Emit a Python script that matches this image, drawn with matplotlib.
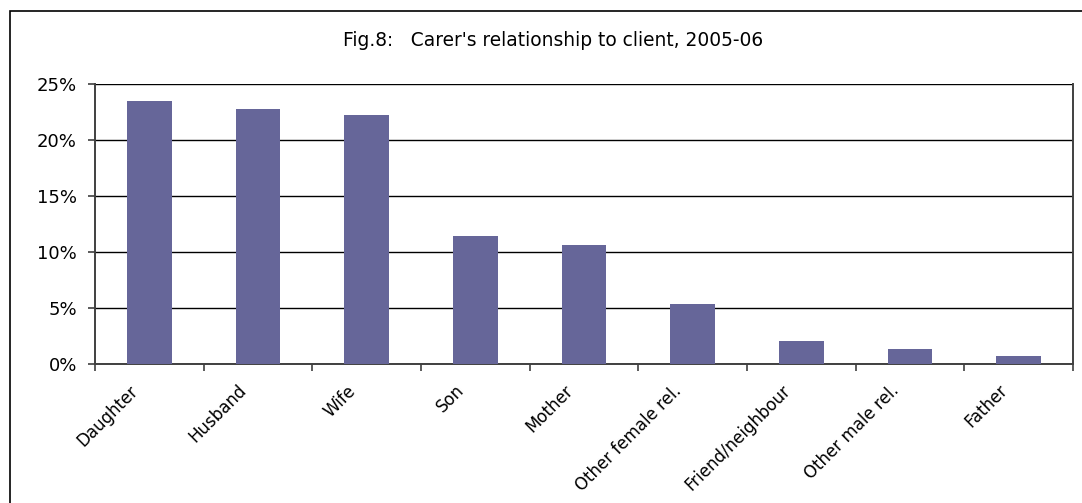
import matplotlib
matplotlib.use("Agg")
import matplotlib.pyplot as plt
from matplotlib.patches import Rectangle
from matplotlib.ticker import FixedLocator, FuncFormatter, NullFormatter
from matplotlib.transforms import ScaledTranslation

categories = ["Daughter", "Husband", "Wife", "Son", "Mother",
              "Other female rel.", "Friend/neighbour", "Other male rel.", "Father"]
shares = [23.5, 22.8, 22.2, 11.4, 10.65, 5.35, 2.05, 1.35, 0.7]
y_ticks = [0, 5, 10, 15, 20, 25]
title = "Fig.8:   Carer's relationship to client, 2005-06"

plt.rcParams['font.family'] = ['DejaVu Sans']

W, H = 1082, 503
fig = plt.figure(figsize=(W / 100, H / 100), dpi=100)

# outer chart frame (runs off the right and bottom edges)
frame = Rectangle((9.5 / W, -0.1), 1.2, 1.1 - 11.5 / H,
                  transform=fig.transFigure, fill=False,
                  edgecolor='black', linewidth=1.2, clip_on=False)
fig.patches.append(frame)

left, right, top, bottom = 95, 1073, 84, 364.3
ax = fig.add_axes([left / W, 1 - bottom / H, (right - left) / W, (bottom - top) / H])

x = list(range(len(categories)))
ax.bar(x, shares, width=0.41, color='#666699', zorder=3)

ax.set_xlim(-0.5, len(categories) - 0.5)
ax.set_ylim(0, 25)
ax.set_yticks(y_ticks)
ax.yaxis.set_major_formatter(FuncFormatter(lambda v, p: f"{v:.0f}%"))
ax.grid(axis='y', color='black', linewidth=1.0, zorder=1)

# category labels at bar centres, tick marks at category boundaries
ax.set_xticks(x)
ax.set_xticklabels(categories, rotation=45, ha='right', va='center',
                   rotation_mode='anchor', fontsize=12)
ax.tick_params(axis='x', which='major', length=0, pad=17)
shift = ScaledTranslation(-14 / 100, 0, fig.dpi_scale_trans)
for lab in ax.get_xticklabels():
    lab.set_transform(lab.get_transform() + shift)
ax.xaxis.set_minor_locator(FixedLocator([i - 0.5 for i in range(len(categories) + 1)]))
ax.xaxis.set_minor_formatter(NullFormatter())
ax.tick_params(axis='x', which='minor', length=5, width=1.2, color='#404040', direction='out')
ax.tick_params(axis='y', which='major', length=5, width=1.2, color='#404040',
               labelsize=13, pad=8)

for side in ['left', 'bottom', 'right']:
    ax.spines[side].set_color('#404040')
    ax.spines[side].set_linewidth(1.4)
ax.spines['top'].set_visible(False)

fig.text(553 / W, 1 - 40 / H, title, ha='center', va='center', fontsize=13.4)

fig.savefig("out.png", dpi=100)
